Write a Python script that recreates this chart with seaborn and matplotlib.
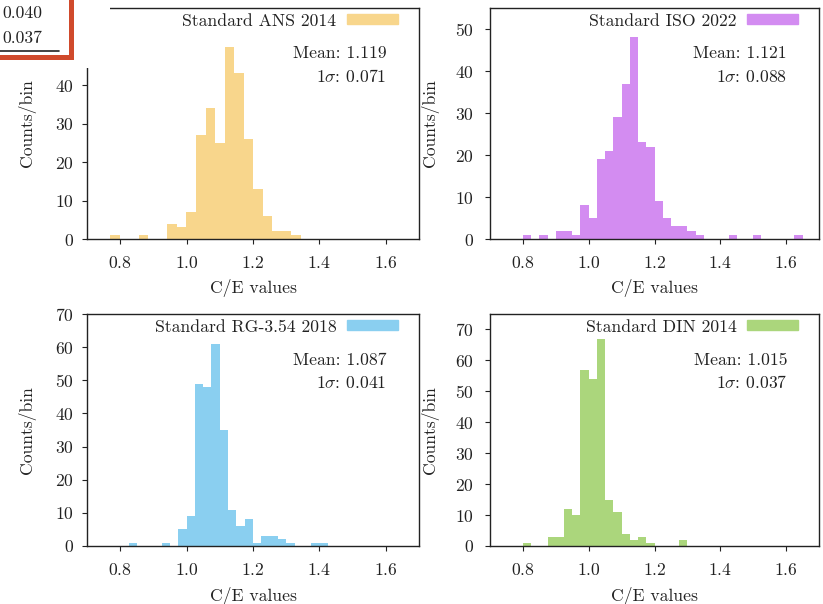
import numpy as np
import pandas as pd
import matplotlib
matplotlib.use("Agg")
import matplotlib.pyplot as plt
import seaborn as sns
from matplotlib.patches import Patch, Rectangle

# Histogram data: first bin edge, bin width, counts per bin
ans_start, ans_width = 0.770, 0.0287
ans_counts = [1, 0, 0, 1, 0, 0, 4, 3, 7, 27, 34, 25, 50, 43, 26, 13, 6, 2, 2, 1]

iso_start, iso_width = 0.800, 0.025
iso_counts = [1, 0, 1, 0, 2, 2, 1, 8, 5, 19, 21, 29, 37, 48, 23, 22, 9, 5, 3, 3, 2, 1,
              0, 0, 0, 1, 0, 0, 1, 0, 0, 0, 0, 1]

rg_start, rg_width = 0.825, 0.025
rg_counts = [1, 0, 0, 0, 1, 0, 5, 9, 49, 48, 61, 35, 11, 6, 8, 1, 3, 3, 2, 1, 0, 0, 1, 1]

din_start, din_width = 0.800, 0.025
din_counts = [1, 0, 0, 3, 3, 12, 10, 57, 54, 67, 15, 11, 4, 2, 3, 1, 0, 0, 0, 2]

labels = ["Standard ANS 2014", "Standard ISO 2022", "Standard RG-3.54 2018", "Standard DIN 2014"]
means = ["1.119", "1.121", "1.087", "1.015"]
sigmas = ["0.071", "0.088", "0.041", "0.037"]
colors = ["#F8D68C", "#D38CF1", "#8ACFF0", "#ABD67C"]
ymax = [60, 55, 70, 75]
xticks = [0.8, 1.0, 1.2, 1.4, 1.6]

# cropped table from a neighbouring figure (top-left corner)
corner_values = ["0.040", "0.037"]

FS = 12.7
sns.set_theme(style="ticks")
plt.rcParams.update({
    "font.family": "serif",
    "font.serif": ["cmr10"],
    "mathtext.fontset": "cm",
    "axes.formatter.use_mathtext": True,
    "font.size": FS,
    "axes.labelsize": FS,
    "xtick.labelsize": FS,
    "ytick.labelsize": FS,
    "legend.fontsize": FS,
    "axes.edgecolor": "#222222",
    "axes.linewidth": 1.0,
    "xtick.direction": "out",
    "ytick.direction": "out",
    "xtick.major.size": 3.4,
    "ytick.major.size": 3.4,
    "xtick.major.width": 0.8,
    "ytick.major.width": 0.8,
    "xtick.color": "#222222",
    "ytick.color": "#222222",
    "text.color": "#222222",
    "axes.labelcolor": "#222222",
})

W, H = 823, 604
fig = plt.figure(figsize=(W / 100, H / 100), dpi=100)


def add_axes_px(l, t, r, b):
    return fig.add_axes([l / W, 1 - b / H, (r - l) / W, (b - t) / H])


boxes = [(87, 8, 419, 239), (490, 8, 819, 239), (87, 314, 419, 546), (490, 314, 819, 546)]
hists = [(ans_start, ans_width, ans_counts), (iso_start, iso_width, iso_counts),
         (rg_start, rg_width, rg_counts), (din_start, din_width, din_counts)]

for i, (box, (start, width, counts)) in enumerate(zip(boxes, hists)):
    ax = add_axes_px(*box)
    n = len(counts)
    centers = start + width * (np.arange(n) + 0.5)
    df = pd.DataFrame({"ce": centers, "n": counts})
    sns.histplot(data=df, x="ce", weights="n", binwidth=width,
                 binrange=(start, start + width * n), ax=ax,
                 color=colors[i], alpha=1, linewidth=0, edgecolor="none")

    ax.set_xlim(0.7, 1.7)
    ax.set_ylim(0, ymax[i])
    ax.set_xticks(xticks)
    ax.set_yticks(np.arange(0, ymax[i] + 1, 10))
    ax.tick_params(axis="x", pad=8)
    ax.tick_params(axis="y", pad=6 if i % 2 == 0 else 8)
    ax.set_xlabel("C/E values")
    ax.set_ylabel("Counts/bin")
    ax.xaxis.set_label_coords(0.5, -0.175)
    ax.yaxis.set_label_coords(-0.155, 0.5)
    for s in ax.spines.values():
        s.set_visible(True)

    ax.legend(handles=[Patch(color=colors[i], label=labels[i])],
              loc="upper right", bbox_to_anchor=(0.937, 0.977),
              frameon=False, markerfirst=False, borderaxespad=0, borderpad=0,
              handlelength=2.9, handleheight=0.5, handletextpad=0.6)
    ax.text(0.903, 0.782, f"Mean: {means[i]}", ha="right", va="baseline",
            transform=ax.transAxes)
    ax.text(0.903, 0.681, rf"$1\sigma$: {sigmas[i]}", ha="right", va="baseline",
            transform=ax.transAxes)

# overlay for the cropped corner table
ov = fig.add_axes([0, 0, 1, 1], zorder=10)
ov.set_xlim(0, W)
ov.set_ylim(H, 0)
ov.axis("off")
ov.patch.set_alpha(0)
ov.add_patch(Rectangle((0, 0), 110, 68, facecolor="white", edgecolor="none"))
ov.plot([71, 71], [0, 57], color="#D04A2C", lw=3.6, solid_capstyle="projecting")
ov.plot([0, 71], [57, 57], color="#D04A2C", lw=3.6, solid_capstyle="projecting")
ov.plot([0, 59], [51, 51], color="#222222", lw=1.2)
ov.text(42, 13.5, corner_values[0], ha="right", va="center")
ov.text(42, 38, corner_values[1], ha="right", va="center")

fig.savefig("out.png", dpi=100)
